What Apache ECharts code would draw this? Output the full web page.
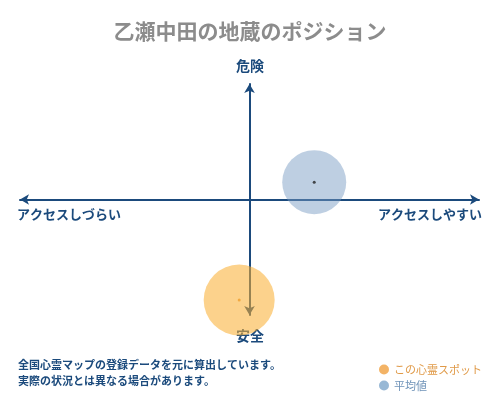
<!DOCTYPE html>
<html>
<head>
<meta charset="utf-8">
<script src="https://cdn.jsdelivr.net/npm/echarts@6/dist/echarts.min.js"></script>
<style>
  html, body { margin: 0; padding: 0; background: #fff; }
  #graphics { width: 500px; height: 400px; }
</style>
</head>
<body>
<div id="graphics"></div>
<script>
// chart data
const categories = ['この心霊スポット', '平均値'];
const xValues = [-0.45, 2.82];   // アクセス (right = easier)
const yValues = [-8.70, 1.50];   // 危険 (up) / 安全 (down)
const axisRange = [-10, 10];

const axisLabels = {
    top: '危険',
    bottom: '安全',
    left: 'アクセスしづらい',
    right: 'アクセスしやすい'
};
const notes = [
    '全国心霊マップの登録データを元に算出しています。',
    '実際の状況とは異なる場合があります。'
];

const font = '"Noto Sans CJK JP", sans-serif';
const navy = '#1b4a7c';

function chart() {
    var myChart = echarts.init(document.getElementById('graphics'));

    var axisCommon = {
        type: 'value',
        min: axisRange[0],
        max: axisRange[1],
        splitLine: { show: false },
        axisTick: { show: false },
        axisLabel: { show: false },
        axisLine: {
            show: true,
            onZero: true,
            symbol: ['arrow', 'arrow'],
            symbolSize: [8, 9],
            lineStyle: { color: navy, width: 2 }
        }
    };

    var option = {
        animation: false,
        textStyle: { fontFamily: font },
        title: {
            text: '乙瀬中田の地蔵のポジション',
            left: 'center',
            top: 16,
            textStyle: { color: '#8c8c8c', fontSize: 21, fontWeight: 'bold', fontFamily: font }
        },
        grid: { left: 20, right: 21, top: 84, bottom: 85 },
        xAxis: axisCommon,
        yAxis: axisCommon,
        legend: {
            orient: 'vertical',
            left: 374,
            top: 359,
            itemWidth: 10,
            itemHeight: 10,
            itemGap: 5,
            icon: 'circle',
            textStyle: { fontSize: 11, fontFamily: font },
            data: [
                { name: categories[0], itemStyle: { color: '#f0a040' }, textStyle: { color: '#e09a48' } },
                { name: categories[1], itemStyle: { color: '#7ea6cb' }, textStyle: { color: '#6f93b8' } }
            ]
        },
        graphic: [
            { type: 'text', left: 'center', top: 59, style: { text: axisLabels.top, fill: navy, font: 'bold 14px ' + font } },
            { type: 'text', left: 'center', top: 329, style: { text: axisLabels.bottom, fill: navy, font: 'bold 14px ' + font } },
            { type: 'text', left: 17, top: 208, style: { text: axisLabels.left, fill: navy, font: 'bold 13px ' + font } },
            { type: 'text', right: 18, top: 208, style: { text: axisLabels.right, fill: navy, font: 'bold 13px ' + font } },
            { type: 'text', left: 18, top: 359, style: { text: notes[0], fill: navy, font: 'bold 11px ' + font } },
            { type: 'text', left: 18, top: 375, style: { text: notes[1], fill: navy, font: 'bold 11px ' + font } }
        ],
        series: [
            {
                name: categories[0],
                type: 'scatter',
                symbolSize: 71,
                itemStyle: { color: 'rgba(250,175,50,0.7)' },
                data: [[xValues[0], yValues[0]]],
                z: 3
            },
            {
                name: categories[1],
                type: 'scatter',
                symbolSize: 64,
                itemStyle: { color: 'rgba(120,155,195,0.6)' },
                data: [[xValues[1], yValues[1]]],
                z: 3
            },
            {
                // centre dots
                type: 'scatter',
                symbolSize: 3,
                data: [
                    { value: [xValues[0], yValues[0]], itemStyle: { color: '#f0a030' } },
                    { value: [xValues[1], yValues[1]], itemStyle: { color: '#222' } }
                ],
                z: 4
            }
        ]
    };

    myChart.setOption(option);
}

chart();
</script>
</body>
</html>
